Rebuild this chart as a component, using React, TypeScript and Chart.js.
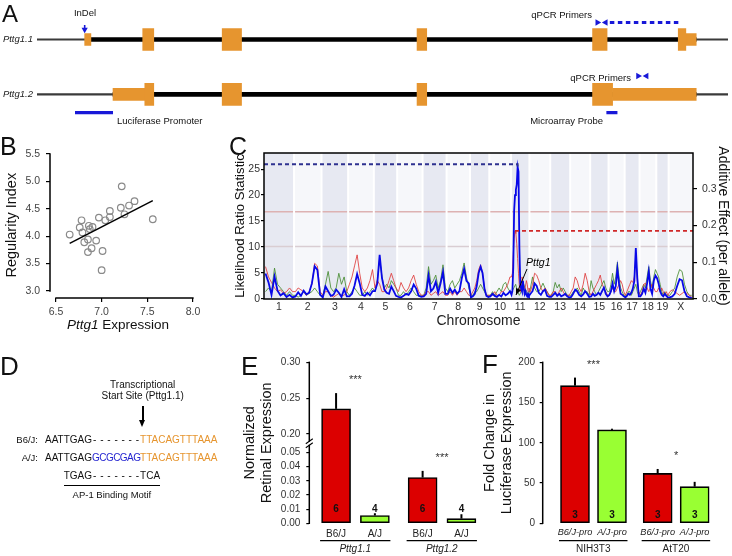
import React, { useEffect, useRef } from 'react';
import { Chart, registerables, LinearScale } from 'chart.js';

Chart.register(...registerables);

const FONT = '"Liberation Sans", Arial, Helvetica, sans-serif';
Chart.defaults.font.family = FONT;
Chart.defaults.color = '#333';

// ---------------- Panel A : transcript models ----------------
const transcripts = ['Pttg1.1', 'Pttg1.2'];
const locusExtent = [0, 100];
const intronSpans = [[7.0, 95.4], [11.0, 95.4]];
const codingExons11 = [[15.3, 16.9], [26.8, 29.6], [55.0, 56.4], [80.4, 82.5], [92.8, 93.9]];
const utrExons11 = [[6.9, 7.8], [93.9, 95.4]];
const codingExons12 = [[15.6, 16.9], [26.8, 29.6], [55.0, 56.4], [80.4, 83.3]];
const utrExons12 = [[11.0, 15.6], [83.3, 95.4]];
const indelSite = 6.9;
const primerPair11 = [81.1, 82.3];
const amplicon11 = [82.9, 93.2];
const primerPair12 = [87.0, 88.2];
const luciferasePromoter = [5.5, 11.0];
const microarrayProbe = [82.4, 84.0];

// ---------------- Panel B : scatter ----------------
const expressionX = [6.65, 6.76, 6.78, 6.79, 6.81, 6.85, 6.85, 6.86, 6.87, 6.89, 6.90, 6.94, 6.97, 7.00, 7.01, 7.04, 7.09, 7.09, 7.21, 7.22, 7.25, 7.30, 7.36, 7.56];
const regularityY = [4.03, 4.16, 4.29, 4.07, 3.89, 3.71, 3.94, 4.19, 4.13, 3.78, 4.17, 3.92, 4.34, 3.38, 3.73, 4.29, 4.35, 4.46, 4.52, 4.91, 4.40, 4.56, 4.64, 4.31];
const fitLineX = [6.65, 7.56];
const fitLineY = [3.87, 4.65];
const bTicksX = [6.5, 7.0, 7.5, 8.0];
const bTicksY = [3.0, 3.5, 4.0, 4.5, 5.0, 5.5];

// ---------------- Panel C : genome scan ----------------
const chromosomes = ['1', '2', '3', '4', '5', '6', '7', '8', '9', '10', '11', '12', '13', '14', '15', '16', '17', '18', '19', 'X'];
const chromLengthsMb = [185, 169, 164, 158, 144, 156, 148, 144, 119, 134, 113, 128, 123, 123, 113, 99, 92, 103, 76, 150];
const lrsBlue = [
  [4.9, 3.2, 0.8, 4.3, 1.6, 0.7, 1.1, 0.4, 0.8, 0.3],
  [0.5, 1.3, 0.6, 1.6, 0.9, 1.2, 3.0, 6.3, 5.6, 0.8],
  [0.3, 2.4, 1.5, 0.6, 0.8, 1.8, 1.2, 0.4, 1.9, 0.5],
  [0.5, 1.0, 2.6, 4.8, 3.0, 0.8, 0.6, 1.2, 0.7, 1.5],
  [1.5, 3.0, 8.5, 4.0, 1.8, 1.2, 1.0, 2.4, 1.5, 0.6],
  [0.4, 0.3, 0.6, 1.0, 0.8, 1.5, 2.8, 2.0, 0.6, 0.4],
  [0.5, 1.0, 4.5, 1.5, 2.0, 3.3, 1.2, 3.0, 5.2, 1.0],
  [1.0, 2.0, 1.2, 1.8, 1.0, 1.5, 4.0, 5.8, 3.5, 3.0],
  [0.3, 0.5, 1.0, 2.5, 5.0, 6.2, 5.0, 2.0, 0.6, 0.4],
  [0.5, 1.0, 0.6, 0.4, 0.8, 0.5, 1.2, 0.7, 1.0, 1.5],
  [0.8, 1.5, 6.0, 17.0, 20.0, 21.0, 22.0, 25.4, 24.5, 10.0, 3.0, 2.0, 1.5, 3.5, 2.0, 1.0, 1.5, 0.8, 0.5, 1.0, 0.6],
  [1.0, 1.5, 3.0, 2.5, 1.2, 0.8, 1.5, 1.8, 0.6, 0.4],
  [0.4, 0.8, 1.2, 0.6, 1.0, 0.5, 0.7, 1.0, 0.5, 0.3],
  [0.4, 1.0, 1.8, 1.5, 0.8, 0.5, 0.9, 1.5, 1.0, 0.4],
  [0.5, 1.0, 0.6, 0.8, 1.2, 0.8, 1.5, 2.2, 1.0, 0.5],
  [0.8, 1.5, 3.0, 1.5, 2.5, 5.8, 3.0, 1.0, 0.8, 0.5],
  [0.3, 0.6, 1.0, 0.8, 1.2, 2.0, 3.5, 9.8, 4.0, 0.5],
  [0.5, 1.0, 2.0, 1.2, 3.0, 5.3, 2.0, 1.0, 3.5, 4.5],
  [4.0, 3.0, 1.5, 0.8, 0.5, 1.0, 0.6, 0.3],
  [0.3, 0.5, 1.0, 2.5, 3.8, 3.6, 1.5, 0.5, 0.3, 0.2],
];
const additiveRed = [
  [0.088, 0.06, 0.045, 0.03, 0.02, 0.025, 0.015, 0.02, 0.03, 0.02],
  [0.02, 0.03, 0.025, 0.02, 0.01, 0.02, 0.04, 0.097, 0.09, 0.02],
  [0.01, 0.02, 0.02, 0.01, 0.005, 0.01, 0.015, 0.01, 0.01, 0.02],
  [0.04, 0.06, 0.09, 0.12, 0.07, 0.03, 0.02, 0.03, 0.05, 0.08],
  [0.03, 0.05, 0.04, 0.02, 0.02, 0.03, 0.05, 0.07, 0.05, 0.03],
  [0.02, 0.045, 0.03, 0.02, 0.03, 0.05, 0.065, 0.04, 0.02, 0.01],
  [0.01, 0.02, 0.02, 0.01, 0.015, 0.02, 0.01, 0.015, 0.02, 0.01],
  [0.01, 0.02, 0.01, 0.02, 0.01, 0.02, 0.02, 0.03, 0.02, 0.01],
  [0.01, 0.02, 0.03, 0.05, 0.08, 0.093, 0.07, 0.03, 0.01, 0.01],
  [0.01, 0.01, 0.02, 0.01, 0.01, 0.02, 0.02, 0.03, 0.04, 0.06],
  [0.06, 0.07, 0.12, 0.165, 0.185, 0.178, 0.15, 0.11, 0.07, 0.035, 0.02, 0.04, 0.06, 0.05, 0.03, 0.02, 0.035, 0.05, 0.04, 0.02, 0.03],
  [0.02, 0.04, 0.07, 0.065, 0.05, 0.03, 0.02, 0.03, 0.02, 0.01],
  [0.01, 0.02, 0.02, 0.01, 0.02, 0.03, 0.02, 0.01, 0.01, 0.01],
  [0.02, 0.03, 0.06, 0.05, 0.03, 0.02, 0.04, 0.07, 0.05, 0.02],
  [0.01, 0.02, 0.03, 0.04, 0.05, 0.065, 0.04, 0.03, 0.02, 0.01],
  [0.01, 0.02, 0.03, 0.02, 0.02, 0.03, 0.04, 0.05, 0.04, 0.02],
  [0.01, 0.02, 0.03, 0.04, 0.05, 0.045, 0.06, 0.115, 0.05, 0.02],
  [0.01, 0.02, 0.04, 0.043, 0.03, 0.02, 0.03, 0.04, 0.03, 0.02],
  [0.02, 0.03, 0.02, 0.03, 0.02, 0.01, 0.02, 0.01],
  [0.02, 0.025, 0.02, 0.015, 0.01, 0.015, 0.02, 0.015, 0.01, 0.005],
];
const additiveGreen = [
  [0.02, 0.03, 0.02, 0.084, 0.04, 0.03, 0.02, 0.01, 0.02, 0.01],
  [0.01, 0.005, 0.01, 0.02, 0.01, 0.015, 0.02, 0.03, 0.02, 0.01],
  [0.01, 0.04, 0.075, 0.03, 0.02, 0.03, 0.07, 0.04, 0.06, 0.02],
  [0.01, 0.02, 0.03, 0.02, 0.01, 0.01, 0.02, 0.01, 0.02, 0.03],
  [0.02, 0.05, 0.11, 0.06, 0.03, 0.04, 0.03, 0.05, 0.04, 0.03],
  [0.01, 0.01, 0.02, 0.01, 0.02, 0.03, 0.02, 0.01, 0.01, 0.01],
  [0.01, 0.03, 0.088, 0.04, 0.05, 0.065, 0.03, 0.05, 0.093, 0.03],
  [0.02, 0.04, 0.05, 0.03, 0.04, 0.05, 0.07, 0.098, 0.06, 0.03],
  [0.01, 0.01, 0.02, 0.02, 0.03, 0.04, 0.03, 0.02, 0.01, 0.01],
  [0.01, 0.02, 0.01, 0.02, 0.03, 0.02, 0.04, 0.045, 0.03, 0.02],
  [0.02, 0.03, 0.04, 0.02, 0.01, 0.02, 0.047, 0.03, 0.02, 0.01],
  [0.03, 0.06, 0.03, 0.02, 0.02, 0.03, 0.043, 0.03, 0.02, 0.01],
  [0.01, 0.02, 0.045, 0.03, 0.04, 0.02, 0.03, 0.02, 0.01, 0.01],
  [0.01, 0.02, 0.02, 0.03, 0.02, 0.01, 0.03, 0.02, 0.02, 0.01],
  [0.05, 0.03, 0.02, 0.01, 0.02, 0.03, 0.04, 0.05, 0.03, 0.02],
  [0.02, 0.04, 0.07, 0.04, 0.06, 0.1, 0.06, 0.03, 0.02, 0.01],
  [0.01, 0.01, 0.02, 0.02, 0.01, 0.02, 0.03, 0.04, 0.02, 0.01],
  [0.02, 0.03, 0.04, 0.03, 0.06, 0.088, 0.05, 0.03, 0.06, 0.08],
  [0.07, 0.06, 0.04, 0.02, 0.01, 0.02, 0.01, 0.01],
  [0.01, 0.02, 0.03, 0.06, 0.08, 0.075, 0.04, 0.02, 0.01, 0.01],
];
const significantLRS = 16.8;
const suggestiveLRS = 10.1;
const peakLRSLine = 25.95;
const pttg1Chrom = 10; // chromosome 11 (index)
const pttg1Mb = 30.5;
const lrsTicks = [0, 5, 10, 15, 20, 25];
const additiveTicks = [0, 0.1, 0.2, 0.3];

// ---------------- Panel E : retinal expression ----------------
const retinaStrains = ['B6/J', 'A/J', 'B6/J', 'A/J'];
const retinaTranscripts = ['Pttg1.1', 'Pttg1.2'];
const retinaMean = [0.235, 0.0055, 0.0323, 0.0033];
const retinaSem = [0.022, 0.0016, 0.0047, 0.0031];
const retinaN = [6, 4, 6, 4];
const retinaSig = ['***', '***'];
const retinaTicks = [0, 0.01, 0.02, 0.03, 0.04, 0.05, 0.2, 0.25, 0.3];

// ---------------- Panel F : luciferase ----------------
const promoterConstructs = ['B6/J-pro', 'A/J-pro', 'B6/J-pro', 'A/J-pro'];
const cellLines = ['NIH3T3', 'AtT20'];
const luciferaseMean = [171, 116, 62, 45.5];
const luciferaseSem = [10, 1.5, 5.5, 6];
const luciferaseN = [3, 3, 3, 3];
const luciferaseSig = ['***', '*'];
const luciferaseTicks = [0, 50, 100, 150, 200];

// ---------------- styling ----------------
const ORANGE = '#E6952F';
const BLUE = '#1818D8';
const BAR_RED = '#DC0000';
const BAR_GREEN = '#99FF33';

// broken axis (panel E)
const E_BREAK = { lowMax: 0.05, highMin: 0.2, lowFrac: 0.44, highFrac: 0.555 };
function brokenToDecimal(v: number, min: number, max: number) {
  const b = E_BREAK;
  if (v <= b.lowMax) return ((v - min) / (b.lowMax - min)) * b.lowFrac;
  if (v >= b.highMin) return b.highFrac + ((v - b.highMin) / (max - b.highMin)) * (1 - b.highFrac);
  return b.lowFrac + ((v - b.lowMax) / (b.highMin - b.lowMax)) * (b.highFrac - b.lowFrac);
}
function brokenFromDecimal(d: number, min: number, max: number) {
  const b = E_BREAK;
  if (d <= b.lowFrac) return min + (d / b.lowFrac) * (b.lowMax - min);
  if (d >= b.highFrac) return b.highMin + ((d - b.highFrac) / (1 - b.highFrac)) * (max - b.highMin);
  return b.lowMax + ((d - b.lowFrac) / (b.highFrac - b.lowFrac)) * (b.highMin - b.lowMax);
}
class BrokenLinearScale extends (LinearScale as any) {
  static id = 'brokenLinear';
  getPixelForValue(value: any) {
    if (value === null || value === undefined || isNaN(value)) return NaN;
    return (this as any).getPixelForDecimal(brokenToDecimal(value, (this as any).min, (this as any).max));
  }
  getValueForPixel(pixel: number) {
    return brokenFromDecimal((this as any).getDecimalForPixel(pixel), (this as any).min, (this as any).max);
  }
}
Chart.register(BrokenLinearScale as any);

// ---------------- plugins ----------------
const axisLinesPlugin = {
  id: 'axisLines',
  afterDraw(chart: any, _a: any, o: any) {
    const { ctx, chartArea: a, scales } = chart;
    ctx.save();
    ctx.strokeStyle = '#000';
    ctx.lineWidth = 1.5;
    if (o.y) {
      const s = scales.y;
      ctx.beginPath();
      ctx.moveTo(a.left, s.getPixelForValue(o.y[0]) + 0.7);
      ctx.lineTo(a.left, s.getPixelForValue(o.y[1]) - 0.7);
      ctx.stroke();
    }
    if (o.x) {
      const s = scales.x;
      ctx.beginPath();
      ctx.moveTo(s.getPixelForValue(o.x[0]) - 0.7, a.bottom);
      ctx.lineTo(s.getPixelForValue(o.x[1]) + 0.7, a.bottom);
      ctx.stroke();
    }
    if (o.yBreak) {
      const s = scales.y;
      const x = a.left;
      const yb = (s.getPixelForValue(o.yBreak[0]) + s.getPixelForValue(o.yBreak[1])) / 2;
      ctx.fillStyle = '#fff';
      ctx.fillRect(x - 2, yb - 1.5, 4, 3);
      ctx.lineWidth = 1.1;
      ctx.beginPath();
      ctx.moveTo(x - 3.5, yb + 0.5);
      ctx.lineTo(x + 3.5, yb - 4.5);
      ctx.moveTo(x - 3.5, yb + 4.5);
      ctx.lineTo(x + 3.5, yb - 0.5);
      ctx.stroke();
    }
    ctx.restore();
  },
};

const barNotesPlugin = {
  id: 'barNotes',
  afterDatasetsDraw(chart: any, _a: any, o: any) {
    const { ctx } = chart;
    const ys = chart.scales.y;
    const xs = chart.scales.x;
    const els = chart.getDatasetMeta(0).data;
    ctx.save();
    ctx.strokeStyle = '#000';
    ctx.lineWidth = 2;
    o.means.forEach((m: number, i: number) => {
      const el = els[i];
      const top = ys.getPixelForValue(m + o.errors[i]);
      ctx.beginPath();
      ctx.moveTo(el.x, el.y);
      ctx.lineTo(el.x, top);
      ctx.stroke();
    });
    const base = ys.getPixelForValue(0);
    ctx.fillStyle = '#111';
    ctx.font = `bold 10px ${FONT}`;
    ctx.textAlign = 'center';
    ctx.textBaseline = 'middle';
    o.n.forEach((n: number, i: number) => ctx.fillText(String(n), els[i].x, base - o.nOffset));
    o.groups.forEach((label: string, g: number) => {
      const i0 = g * 2;
      const i1 = g * 2 + 1;
      const a = els[i0];
      const b = els[i1];
      const left = a.x - a.width / 2 - 1.5;
      const right = b.x + b.width / 2 + 1;
      ctx.strokeStyle = '#000';
      ctx.lineWidth = 1.2;
      ctx.beginPath();
      ctx.moveTo(left, xs.top + o.lineOffset);
      ctx.lineTo(right, xs.top + o.lineOffset);
      ctx.stroke();
      ctx.fillStyle = '#222';
      ctx.font = `${o.groupItalic ? 'italic ' : ''}10px ${FONT}`;
      ctx.fillText(label, (left + right) / 2, xs.top + o.labelOffset);
      const tops = [i0, i1].map((i) => ys.getPixelForValue(o.means[i] + o.errors[i]));
      ctx.font = `11px ${FONT}`;
      ctx.fillStyle = '#333';
      ctx.fillText(o.sig[g], (a.x + b.x) / 2, Math.min(...tops) - o.sigOffset);
    });
    ctx.restore();
  },
};

const chromStarts: number[] = [];
chromLengthsMb.reduce((acc, len) => {
  chromStarts.push(acc);
  return acc + len;
}, 0);
const genomeLength = chromLengthsMb.reduce((a, b) => a + b, 0);
const chromCenters = chromStarts.map((s, i) => s + chromLengthsMb[i] / 2);
const SEPARATOR_AFTER = 5;

const bandsPlugin = {
  id: 'chromBands',
  beforeDatasetsDraw(chart: any) {
    const { ctx, chartArea: a, scales } = chart;
    const x = scales.x;
    ctx.save();
    chromStarts.forEach((s, i) => {
      const x0 = x.getPixelForValue(s);
      const x1 = x.getPixelForValue(s + chromLengthsMb[i]);
      ctx.fillStyle = i % 2 === 0 ? '#E7E9F2' : '#F6F7FA';
      ctx.fillRect(x0, a.top, x1 - x0, a.bottom - a.top);
    });
    ctx.restore();
  },
  afterDatasetDraw(chart: any, args: any) {
    if (args.index !== SEPARATOR_AFTER) return;
    const { ctx, chartArea: a, scales } = chart;
    ctx.save();
    ctx.strokeStyle = '#ffffff';
    ctx.lineWidth = 2;
    chromStarts.slice(1).forEach((s) => {
      const px = scales.x.getPixelForValue(s);
      ctx.beginPath();
      ctx.moveTo(px, a.top);
      ctx.lineTo(px, a.bottom);
      ctx.stroke();
    });
    ctx.restore();
  },
};

const framePlugin = {
  id: 'frame',
  afterDatasetsDraw(chart: any) {
    const { ctx, chartArea: a } = chart;
    ctx.save();
    ctx.strokeStyle = '#000';
    ctx.lineWidth = 1.5;
    ctx.strokeRect(a.left, a.top, a.right - a.left, a.bottom - a.top);
    ctx.restore();
  },
};

const pttgPlugin = {
  id: 'pttgNote',
  afterDatasetsDraw(chart: any) {
    const { ctx, scales } = chart;
    const tx = scales.x.getPixelForValue(chromStarts[pttg1Chrom] + pttg1Mb);
    const ty = scales.y.getPixelForValue(0) - 4;
    const sx = tx + 11;
    const sy = ty - 26;
    ctx.save();
    ctx.strokeStyle = '#000';
    ctx.fillStyle = '#000';
    ctx.lineWidth = 1;
    ctx.beginPath();
    ctx.moveTo(sx, sy);
    ctx.lineTo(tx, ty);
    ctx.stroke();
    const ang = Math.atan2(ty - sy, tx - sx);
    ctx.beginPath();
    ctx.moveTo(tx, ty);
    ctx.lineTo(tx - 7 * Math.cos(ang - 0.4), ty - 7 * Math.sin(ang - 0.4));
    ctx.lineTo(tx - 7 * Math.cos(ang + 0.4), ty - 7 * Math.sin(ang + 0.4));
    ctx.closePath();
    ctx.fill();
    ctx.font = `italic 10.5px ${FONT}`;
    ctx.textAlign = 'left';
    ctx.textBaseline = 'middle';
    ctx.fillText('Pttg1', tx + 10, ty - 32);
    ctx.restore();
  },
};

// ---------------- helpers ----------------
const baseOptions = () => ({
  responsive: false,
  animation: false as const,
  events: [] as any[],
  plugins: { legend: { display: false }, tooltip: { enabled: false } } as any,
});

function genomePoints(values: number[][]) {
  const pts: { x: number; y: number }[] = [];
  values.forEach((arr, c) => {
    const len = chromLengthsMb[c];
    arr.forEach((v, i) => pts.push({ x: chromStarts[c] + (len * (i + 0.5)) / arr.length, y: v }));
  });
  return pts;
}

const barPositions = (n: number, gap: number) => Array.from({ length: n }, (_, i) => i + 1 + Math.floor(i / 2) * gap);

const tickAxis = (ticks: number[]) => (s: any) => {
  s.ticks = ticks.map((v) => ({ value: v }));
};

// ---------------- configs ----------------
function configA(): any {
  const ROW = { primer1: 0.69, indelTop: 0.736, indelHead: 0.82, primer2: 1.666, features: 2.333 };
  const rowBars = (lists: number[][][]) => lists.flatMap((list, r) => list.map((s) => ({ y: r + 1, x: s })));
  const o: any = baseOptions();
  return {
    type: 'bar',
    data: {
      datasets: [
        {
          type: 'scatter',
          data: [
            { x: primerPair11[0], y: ROW.primer1 },
            { x: primerPair11[1], y: ROW.primer1 },
            { x: primerPair12[0], y: ROW.primer2 },
            { x: primerPair12[1], y: ROW.primer2 },
          ],
          pointStyle: 'triangle',
          pointRotation: [90, -90, 90, -90],
          pointRadius: 3.8,
          pointBackgroundColor: BLUE,
          pointBorderWidth: 0,
        },
        {
          type: 'scatter',
          data: [{ x: indelSite, y: ROW.indelHead }],
          pointStyle: 'triangle',
          pointRotation: 180,
          pointRadius: 3.6,
          pointBackgroundColor: BLUE,
          pointBorderWidth: 0,
        },
        { type: 'line', data: [{ x: indelSite, y: ROW.indelTop }, { x: indelSite, y: ROW.indelHead }], borderColor: BLUE, borderWidth: 1.6, pointRadius: 0 },
        { type: 'line', data: amplicon11.map((x) => ({ x, y: ROW.primer1 })), borderColor: BLUE, borderWidth: 3.2, borderDash: [4.5, 3.5], pointRadius: 0 },
        { type: 'line', data: luciferasePromoter.map((x) => ({ x, y: ROW.features })), borderColor: BLUE, borderWidth: 3.4, pointRadius: 0 },
        { type: 'line', data: microarrayProbe.map((x) => ({ x, y: ROW.features })), borderColor: BLUE, borderWidth: 3.4, pointRadius: 0 },
        { type: 'bar', indexAxis: 'y', data: rowBars([codingExons11, codingExons12]), backgroundColor: ORANGE, barThickness: 22, grouped: false },
        { type: 'bar', indexAxis: 'y', data: rowBars([utrExons11, utrExons12]), backgroundColor: ORANGE, barThickness: 12, grouped: false },
        { type: 'bar', indexAxis: 'y', data: intronSpans.map((s, r) => ({ y: r + 1, x: s })), backgroundColor: '#000', barThickness: 4, grouped: false },
        { type: 'bar', indexAxis: 'y', data: transcripts.map((_, r) => ({ y: r + 1, x: locusExtent })), backgroundColor: '#3a3a3a', barThickness: 1.4, grouped: false },
      ],
    },
    options: {
      ...o,
      layout: { padding: { left: 0, right: 2, top: 0, bottom: 0 } },
      scales: {
        x: { type: 'linear', display: false, bounds: 'data', offset: false, min: locusExtent[0], max: locusExtent[1] },
        y: {
          type: 'linear',
          bounds: 'data',
          offset: false,
          reverse: true,
          min: 0.457,
          max: 2.473,
          grid: { display: false, drawTicks: false, offset: false },
          border: { display: false },
          ticks: { autoSkip: false, padding: 4, font: { size: 9.5, style: 'italic' }, color: '#222', callback: (_v: any, i: number) => transcripts[i] },
          afterBuildTicks: tickAxis(transcripts.map((_, i) => i + 1)),
          afterFit: (s: any) => {
            s.width = 37;
          },
        },
      },
    },
  };
}

function configB(): any {
  const o: any = baseOptions();
  o.plugins.axisLines = { x: [bTicksX[0], bTicksX[bTicksX.length - 1]], y: [bTicksY[0], bTicksY[bTicksY.length - 1]] };
  return {
    type: 'scatter',
    data: {
      datasets: [
        { type: 'line', data: fitLineX.map((x, i) => ({ x, y: fitLineY[i] })), borderColor: '#000', borderWidth: 1.5, pointRadius: 0 },
        {
          data: expressionX.map((x, i) => ({ x, y: regularityY[i] })),
          pointRadius: 3.3,
          borderColor: '#8a8a8a',
          borderWidth: 1.2,
          backgroundColor: 'rgba(255,255,255,0)',
        },
      ],
    },
    options: {
      ...o,
      layout: { padding: { left: 0, right: 34.3, top: 22.4, bottom: 0 } },
      scales: {
        x: {
          type: 'linear',
          bounds: 'data',
          min: 6.4345,
          max: 8.03,
          grid: { drawOnChartArea: false, drawTicks: true, tickLength: 4, color: '#000', lineWidth: 1.2 },
          border: { display: false },
          ticks: { autoSkip: false, maxRotation: 0, padding: 3.4, font: { size: 10.5 }, color: '#444', callback: (v: number) => v.toFixed(1) },
          afterBuildTicks: tickAxis(bTicksX),
          afterFit: (s: any) => {
            s.height = 42;
          },
        },
        y: {
          type: 'linear',
          bounds: 'data',
          min: 2.872,
          max: 5.53,
          grid: { drawOnChartArea: false, drawTicks: true, tickLength: 4, color: '#000', lineWidth: 1.2 },
          border: { display: false },
          ticks: { autoSkip: false, padding: 6, font: { size: 10.5 }, color: '#444', callback: (v: number) => v.toFixed(1) },
          title: { display: true, text: 'Regularity Index', font: { size: 14.5 }, color: '#111', padding: { top: 3.3, bottom: 0 } },
          afterBuildTicks: tickAxis(bTicksY),
          afterFit: (s: any) => {
            s.width = 50;
          },
        },
      },
    },
    plugins: [axisLinesPlugin],
  };
}

function configC(): any {
  const blue = genomePoints(lrsBlue);
  const red = genomePoints(additiveRed);
  const green = genomePoints(additiveGreen);
  const bluePeak = blue.reduce((a, b) => (b.y > a.y ? b : a));
  const redPeak = red.reduce((a, b) => (b.y > a.y ? b : a));
  const o: any = baseOptions();
  const line = { showLine: true, pointRadius: 0, tension: 0 };
  return {
    type: 'scatter',
    data: {
      datasets: [
        { ...line, data: [{ x: 0, y: peakLRSLine }, { x: bluePeak.x, y: peakLRSLine }, { x: bluePeak.x, y: bluePeak.y }], borderColor: '#2E3190', borderWidth: 2, borderDash: [4, 3], yAxisID: 'y' },
        { ...line, data: [{ x: redPeak.x, y: redPeak.y }, { x: genomeLength, y: redPeak.y }], borderColor: '#D02828', borderWidth: 1.7, borderDash: [4, 3], yAxisID: 'yAdd' },
        { ...line, data: blue, borderColor: '#0808E8', borderWidth: 1.8, yAxisID: 'y' },
        { ...line, data: red, borderColor: 'rgba(222,60,60,0.85)', borderWidth: 1, yAxisID: 'yAdd' },
        { ...line, data: green, borderColor: 'rgba(72,140,50,0.85)', borderWidth: 1, yAxisID: 'yAdd' },
        { ...line, data: [{ x: 0, y: significantLRS }, { x: genomeLength, y: significantLRS }], borderColor: '#DDB2B2', borderWidth: 1.6, yAxisID: 'y' },
        { ...line, data: [{ x: 0, y: suggestiveLRS }, { x: genomeLength, y: suggestiveLRS }], borderColor: '#D9CDD2', borderWidth: 1.6, yAxisID: 'y' },
      ],
    },
    options: {
      ...o,
      layout: { padding: { left: 0, right: 0, top: 23, bottom: 0 } },
      scales: {
        x: {
          type: 'linear',
          bounds: 'data',
          min: 0,
          max: genomeLength,
          grid: { display: false, drawTicks: false },
          border: { display: false },
          ticks: { autoSkip: false, maxRotation: 0, padding: 2, font: { size: 10.5 }, color: '#333', callback: (_v: any, i: number) => chromosomes[i] },
          title: { display: true, text: 'Chromosome', font: { size: 14 }, color: '#222', padding: { top: 0, bottom: 0 } },
          afterBuildTicks: tickAxis(chromCenters),
          afterFit: (s: any) => {
            s.height = 31;
          },
        },
        y: {
          type: 'linear',
          position: 'left',
          bounds: 'data',
          min: 0,
          max: 28.1,
          grid: { drawOnChartArea: false, drawTicks: true, tickLength: 3, color: '#000', lineWidth: 1.2 },
          border: { display: false },
          ticks: { autoSkip: false, padding: 1, font: { size: 10.5 }, color: '#333' },
          title: { display: true, text: 'Likelihood Ratio Statistic', font: { size: 13.2 }, color: '#111', padding: { top: 2.2, bottom: 0 } },
          afterBuildTicks: tickAxis(lrsTicks),
          afterFit: (s: any) => {
            s.width = 34;
          },
        },
        yAdd: {
          type: 'linear',
          position: 'right',
          bounds: 'data',
          min: 0,
          max: 0.397,
          grid: { drawOnChartArea: false, drawTicks: true, tickLength: 4, color: '#000', lineWidth: 1.2 },
          border: { display: false },
          ticks: { autoSkip: false, padding: 5, font: { size: 10.5 }, color: '#333', callback: (v: number) => v.toFixed(1) },
          title: { display: true, text: 'Additive Effect (per allele)', font: { size: 14 }, color: '#111', padding: { top: 0.6, bottom: 0 } },
          afterBuildTicks: tickAxis(additiveTicks),
          afterFit: (s: any) => {
            s.width = 39;
          },
        },
      },
    },
    plugins: [bandsPlugin, framePlugin, pttgPlugin],
  };
}

function configBars(p: {
  labels: string[];
  italicLabels: boolean;
  labelSize: number;
  groups: string[];
  groupItalic: boolean;
  means: number[];
  errors: number[];
  n: number[];
  sig: string[];
  ticks: number[];
  gap: number;
  xMin: number;
  xMax: number;
  yType: string;
  yMax: number;
  yFormat: (v: number) => string;
  title: string[];
  yWidth: number;
  yPad: number;
  rightPad: number;
  nOffset: number;
  tickPad: number;
  yBreak?: number[];
}): any {
  const pos = barPositions(p.means.length, p.gap);
  const o: any = baseOptions();
  o.plugins.axisLines = { y: [0, p.yMax], yBreak: p.yBreak };
  o.plugins.barNotes = {
    means: p.means,
    errors: p.errors,
    n: p.n,
    sig: p.sig,
    groups: p.groups,
    groupItalic: p.groupItalic,
    nOffset: p.nOffset,
    lineOffset: 17.4,
    labelOffset: 26,
    sigOffset: 13,
  };
  return {
    type: 'bar',
    data: {
      datasets: [
        {
          data: p.means.map((v, i) => ({ x: pos[i], y: v })),
          backgroundColor: p.means.map((_, i) => (i % 2 === 0 ? BAR_RED : BAR_GREEN)),
          borderColor: '#000',
          borderWidth: 1.6,
          borderSkipped: false,
          barThickness: 29,
        },
      ],
    },
    options: {
      ...o,
      layout: { padding: { left: 0, right: p.rightPad, top: 12.3, bottom: 0 } },
      scales: {
        x: {
          type: 'linear',
          bounds: 'data',
          offset: false,
          min: p.xMin,
          max: p.xMax,
          grid: { display: false, drawTicks: false, offset: false },
          border: { display: false },
          ticks: {
            autoSkip: false,
            maxRotation: 0,
            padding: p.tickPad,
            font: { size: p.labelSize, style: p.italicLabels ? 'italic' : 'normal' },
            color: '#222',
            callback: (_v: any, i: number) => p.labels[i],
          },
          afterBuildTicks: tickAxis(pos),
          afterFit: (s: any) => {
            s.height = 32.7;
          },
        },
        y: {
          type: p.yType,
          bounds: 'data',
          min: 0,
          max: p.yMax,
          grid: { drawOnChartArea: false, drawTicks: true, tickLength: 3, color: '#000', lineWidth: 1.2 },
          border: { display: false },
          ticks: { autoSkip: false, padding: p.yPad, font: { size: 10 }, color: '#333', callback: (v: number) => p.yFormat(v) },
          title: { display: true, text: p.title, font: { size: 14.5, lineHeight: 1.2 }, color: '#111', padding: { top: 1.3, bottom: 0 } },
          afterBuildTicks: tickAxis(p.ticks),
          afterFit: (s: any) => {
            s.width = p.yWidth;
          },
        },
      },
    },
    plugins: [axisLinesPlugin, barNotesPlugin],
  };
}

// ---------------- HTML text helper ----------------
function Txt(props: { x: number; y: number; a?: 'left' | 'center' | 'right'; size?: number; style?: any; children: any }) {
  const { x, y, a = 'left', size = 10, style, children } = props;
  const tx = a === 'left' ? '0' : a === 'center' ? '-50%' : '-100%';
  return (
    <div
      style={{
        position: 'absolute',
        left: x,
        top: y,
        transform: `translate(${tx}, -50%)`,
        fontSize: size,
        lineHeight: 1,
        whiteSpace: 'nowrap',
        ...style,
      }}
    >
      {children}
    </div>
  );
}

function Dashes({ width }: { width: number }) {
  return (
    <span style={{ width, display: 'inline-flex', justifyContent: 'space-between', padding: '0 1px', boxSizing: 'border-box' }}>
      {Array.from({ length: 7 }, (_, i) => (
        <span key={i}>-</span>
      ))}
    </span>
  );
}

export default function App() {
  const refA = useRef<HTMLCanvasElement>(null);
  const refB = useRef<HTMLCanvasElement>(null);
  const refC = useRef<HTMLCanvasElement>(null);
  const refE = useRef<HTMLCanvasElement>(null);
  const refF = useRef<HTMLCanvasElement>(null);

  useEffect(() => {
    document.body.style.margin = '0';
    const charts = [
      new Chart(refA.current as any, configA()),
      new Chart(refB.current as any, configB()),
      new Chart(refC.current as any, configC()),
      new Chart(
        refE.current as any,
        configBars({
          labels: retinaStrains,
          italicLabels: false,
          labelSize: 10,
          groups: retinaTranscripts,
          groupItalic: true,
          means: retinaMean,
          errors: retinaSem,
          n: retinaN,
          sig: retinaSig,
          ticks: retinaTicks,
          gap: 0.23,
          xMin: 0.31,
          xMax: 4.76,
          yType: 'brokenLinear',
          yMax: 0.3,
          yFormat: (v) => v.toFixed(2),
          title: ['Normalized', 'Retinal Expression'],
          yWidth: 69.3,
          yPad: 6,
          rightPad: 2,
          nOffset: 14,
          tickPad: 4.7,
          yBreak: [E_BREAK.lowMax, E_BREAK.highMin],
        })
      ),
      new Chart(
        refF.current as any,
        configBars({
          labels: promoterConstructs,
          italicLabels: true,
          labelSize: 9.2,
          groups: cellLines,
          groupItalic: false,
          means: luciferaseMean,
          errors: luciferaseSem,
          n: luciferaseN,
          sig: luciferaseSig,
          ticks: luciferaseTicks,
          gap: 0.235,
          xMin: 0.127,
          xMax: 4.92,
          yType: 'linear',
          yMax: 200,
          yFormat: (v) => String(v),
          title: ['Fold Change in', 'Luciferase Expression'],
          yWidth: 62.7,
          yPad: 4.7,
          rightPad: 12,
          nOffset: 8.5,
          tickPad: 4,
        })
      ),
    ];
    return () => charts.forEach((c) => c.destroy());
  }, []);

  const canvasStyle = (left: number, top: number, w: number, h: number): any => ({ position: 'absolute', left, top, width: w, height: h });
  const seqRow: any = { position: 'absolute', left: 45, display: 'flex', fontSize: 10, lineHeight: 1, whiteSpace: 'nowrap', transform: 'translateY(-50%)' };

  return (
    <div style={{ position: 'absolute', left: 0, top: 0, width: 732, height: 556, background: '#fff', fontFamily: FONT, color: '#111', overflow: 'hidden' }}>
      <canvas ref={refA} width={732} height={130} style={canvasStyle(0, 0, 732, 130)} />
      <canvas ref={refB} width={230} height={210} style={canvasStyle(0, 130, 230, 210)} />
      <canvas ref={refC} width={502} height={200} style={canvasStyle(230, 130, 502, 200)} />
      <canvas ref={refE} width={244} height={206} style={canvasStyle(240, 350, 244, 206)} />
      <canvas ref={refF} width={252} height={206} style={canvasStyle(480, 350, 252, 206)} />

      {/* panel letters */}
      <Txt x={2} y={13.5} size={24}>A</Txt>
      <Txt x={0} y={146} size={25}>B</Txt>
      <Txt x={229} y={146} size={25}>C</Txt>
      <Txt x={0} y={366} size={26}>D</Txt>
      <Txt x={241} y={366} size={26}>E</Txt>
      <Txt x={482} y={364} size={26}>F</Txt>

      {/* panel A annotations */}
      <Txt x={85} y={13} a="center" size={9.5}>InDel</Txt>
      <Txt x={592} y={15} a="right" size={9.5}>qPCR Primers</Txt>
      <Txt x={631} y={78} a="right" size={9.5}>qPCR Primers</Txt>
      <Txt x={117} y={121} size={9.5}>Luciferase Promoter</Txt>
      <Txt x={603} y={121} a="right" size={9.5}>Microarray Probe</Txt>

      {/* panel B x title */}
      <Txt x={118} y={325} a="center" size={13.5}>
        <i>Pttg1</i> Expression
      </Txt>

      {/* panel D */}
      <Txt x={142.7} y={385} a="center" size={10}>Transcriptional</Txt>
      <Txt x={142.7} y={396} a="center" size={10}>Start Site (Pttg1.1)</Txt>
      <div style={{ position: 'absolute', left: 142, top: 406, width: 1.5, height: 15, background: '#000' }} />
      <div style={{ position: 'absolute', left: 139.2, top: 420, width: 0, height: 0, borderLeft: '3.5px solid transparent', borderRight: '3.5px solid transparent', borderTop: '7px solid #000' }} />

      <Txt x={38} y={440} a="right" size={9.5}>B6/J:</Txt>
      <div style={{ ...seqRow, top: 440 }}>
        <span>AATTGAG</span>
        <Dashes width={48} />
        <span style={{ color: ORANGE }}>TTACAGTTTAAA</span>
      </div>
      <Txt x={38} y={458} a="right" size={9.5}>A/J:</Txt>
      <div style={{ ...seqRow, top: 458 }}>
        <span>AATTGAG</span>
        <span style={{ width: 48, color: '#2424D0', letterSpacing: -0.55, display: 'inline-block' }}>GCGCGAG</span>
        <span style={{ color: ORANGE }}>TTACAGTTTAAA</span>
      </div>
      <div style={{ position: 'absolute', left: 45, top: 471, display: 'flex', fontSize: 10, lineHeight: 1, whiteSpace: 'nowrap' }}>
        <span style={{ visibility: 'hidden' }}>AAT</span>
        <div style={{ display: 'flex', flexDirection: 'column', alignItems: 'center' }}>
          <div style={{ display: 'flex', borderBottom: '1.5px solid #000', paddingBottom: 4 }}>
            <span>TGAG</span>
            <Dashes width={48} />
            <span>TCA</span>
          </div>
          <div style={{ fontSize: 9.5, marginTop: 4 }}>AP-1 Binding Motif</div>
        </div>
      </div>
    </div>
  );
}
